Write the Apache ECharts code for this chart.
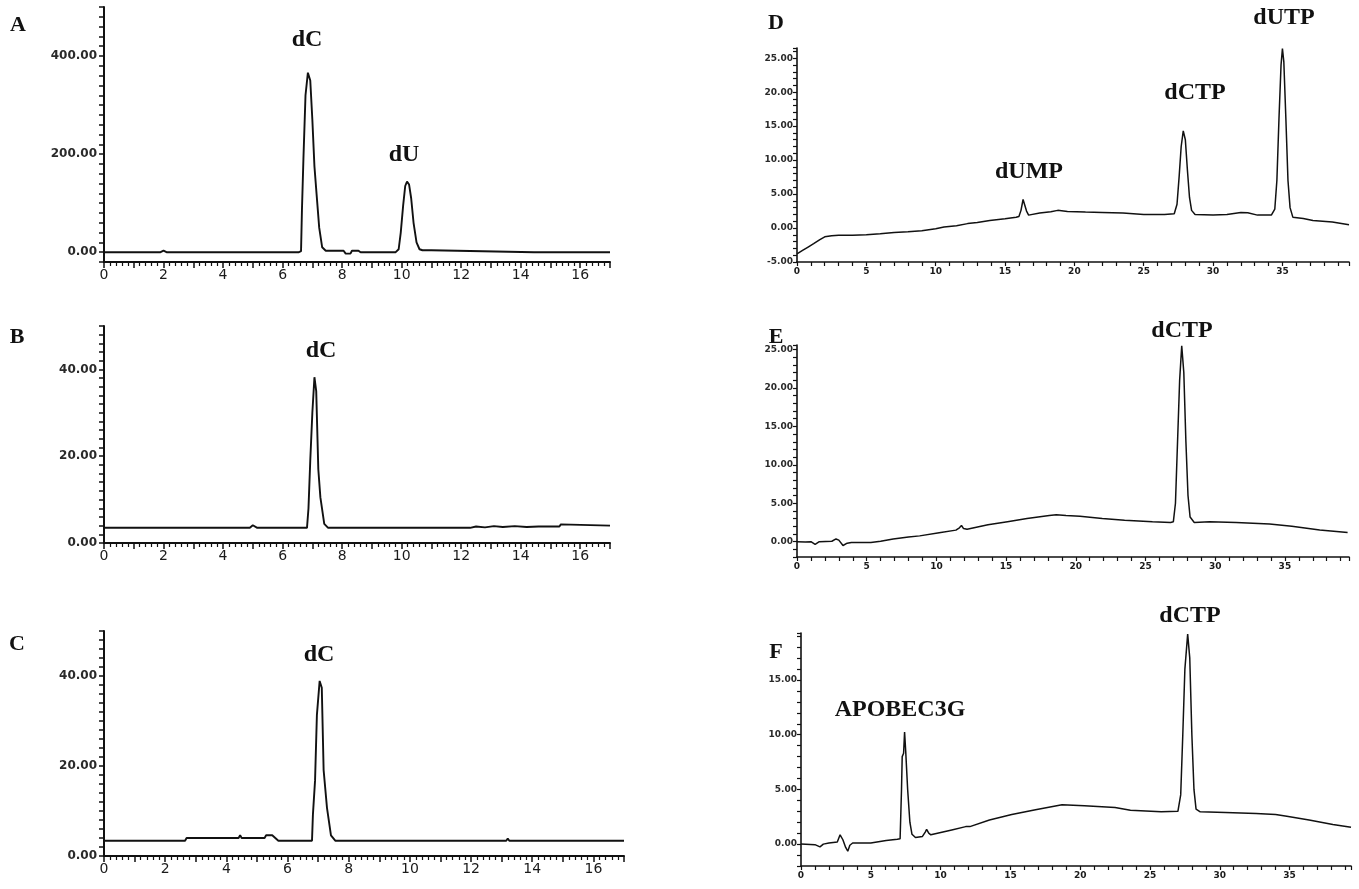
<!DOCTYPE html>
<html>
<head>
<meta charset="utf-8">
<script src="https://cdn.jsdelivr.net/npm/echarts@6/dist/echarts.min.js"></script>
<style>html,body{margin:0;padding:0;background:#fff}#c{width:1359px;height:889px}</style>
</head>
<body>
<div id="c"></div>
<script>
// ---- data (time in min, absorbance) ----
const traceA = [[0,0],[1.9,0],[2.0,3],[2.1,0],[6.55,0],[6.62,2],[6.65,85],[6.7,190],[6.77,320],[6.85,366],[6.93,350],[7.0,270],[7.07,175],[7.14,120],[7.23,50],[7.33,10],[7.45,3],[8.05,3],[8.12,-3],[8.28,-3],[8.33,3],[8.55,3],[8.62,0],[9.8,0],[9.9,6],[9.97,40],[10.05,95],[10.12,135],[10.18,144],[10.25,138],[10.32,110],[10.4,60],[10.5,20],[10.6,6],[10.7,4],[11.0,4],[11.05,0],[14.45,0],[14.5,4],[14.56,0],[17,0]];
const traceB = [[0,3.5],[4.9,3.5],[5.0,4.1],[5.15,3.5],[6.82,3.5],[6.87,8],[6.93,19],[7.0,30],[7.07,38.2],[7.13,35],[7.2,17],[7.27,10.5],[7.4,4.4],[7.53,3.5],[12.3,3.5],[12.5,3.8],[12.8,3.6],[13.1,3.9],[13.4,3.7],[13.8,3.9],[14.2,3.7],[14.6,3.8],[15.3,3.8],[15.35,4.3],[15.4,3.9],[17,4.0]];
const traceC = [[0,3.4],[1.45,3.4],[1.5,3.8],[1.55,3.4],[2.65,3.4],[2.7,4.0],[4.4,4.0],[4.45,4.6],[4.5,4.0],[5.25,4.0],[5.3,4.6],[5.5,4.6],[5.7,3.4],[6.8,3.4],[6.83,9.2],[6.9,16.8],[6.96,31.3],[7.05,38.9],[7.12,37.4],[7.18,19.1],[7.29,10.7],[7.42,4.6],[7.56,3.4],[13.15,3.4],[13.2,3.9],[13.25,3.4],[13.95,3.4],[14.0,3.8],[14.05,3.4],[14.65,3.4],[14.7,3.8],[14.75,3.4],[17,3.4]];
const traceD = [[0,-3.8],[0.4,-3.3],[0.8,-2.8],[1.2,-2.3],[1.65,-1.7],[2.0,-1.3],[2.5,-1.15],[3.0,-1.05],[4.0,-1.05],[5.0,-1.0],[6.0,-0.85],[7.0,-0.65],[8.0,-0.55],[9.0,-0.4],[10.0,-0.1],[10.6,0.15],[11.5,0.35],[12.3,0.65],[13.0,0.8],[13.9,1.1],[15.0,1.35],[15.8,1.6],[16.0,1.7],[16.15,2.6],[16.3,4.2],[16.4,4.1],[16.55,2.5],[16.7,1.9],[17.5,2.2],[18.3,2.4],[18.8,2.6],[19.5,2.45],[20.8,2.35],[22.0,2.3],[23.5,2.2],[25.0,2.0],[26.5,2.0],[27.2,2.1],[27.4,3.5],[27.55,7.5],[27.7,12.0],[27.85,14.3],[28.0,13.0],[28.15,8.5],[28.3,4.5],[28.45,2.6],[28.7,2.0],[30.0,1.9],[31.0,2.0],[32.0,2.3],[32.5,2.25],[33.2,1.9],[34.2,1.9],[34.45,2.8],[34.6,7],[34.75,16],[34.9,24],[35.0,26.4],[35.1,24.5],[35.25,16],[35.4,7],[35.55,3],[35.75,1.6],[36.5,1.4],[37.2,1.1],[38.6,0.9],[39.8,0.5]];
const traceE = [[0,0],[0.6,-0.05],[1.0,0],[1.3,-0.35],[1.6,0],[2.5,0.05],[2.8,0.35],[3.0,0.2],[3.3,-0.5],[3.6,-0.2],[3.9,-0.1],[5.3,-0.1],[6.0,0.05],[6.9,0.35],[8.0,0.6],[8.8,0.75],[10.2,1.15],[11.4,1.5],[11.65,1.8],[11.8,2.1],[11.95,1.7],[12.2,1.6],[13.7,2.2],[15.1,2.6],[16.5,3.0],[18.1,3.4],[18.6,3.5],[19.3,3.4],[20.3,3.3],[21.9,3.0],[23.5,2.8],[25.5,2.6],[26.8,2.5],[27.0,2.6],[27.15,5],[27.3,13],[27.45,21],[27.6,25.5],[27.75,22],[27.9,13],[28.05,6],[28.2,3.2],[28.5,2.5],[29.6,2.6],[31.5,2.5],[33.9,2.3],[35.5,2.0],[37.5,1.5],[39.5,1.2]];
const traceF = [[0,0],[1.0,-0.05],[1.36,-0.25],[1.6,0],[2.0,0.1],[2.6,0.2],[2.8,0.85],[3.0,0.4],[3.2,-0.3],[3.35,-0.65],[3.5,-0.1],[3.7,0.1],[5.0,0.1],[6.1,0.33],[6.9,0.45],[7.1,0.5],[7.2,5],[7.25,8.0],[7.35,8.3],[7.42,10.25],[7.5,8.5],[7.64,5.0],[7.8,2.0],[7.95,0.9],[8.2,0.6],[8.7,0.7],[8.9,1.1],[9.0,1.35],[9.15,1.0],[9.3,0.85],[10.8,1.3],[11.8,1.6],[11.9,1.75],[12.1,1.6],[13.5,2.2],[15.1,2.7],[16.8,3.15],[18.7,3.6],[20.3,3.5],[22.5,3.35],[23.6,3.1],[25.8,2.95],[27.0,3.0],[27.2,4.5],[27.35,10],[27.5,16],[27.7,19.2],[27.85,17],[28.0,10],[28.15,5],[28.3,3.2],[28.6,2.95],[30.4,2.9],[32.6,2.8],[34.0,2.7],[34.8,2.55],[36.4,2.2],[38.1,1.8],[39.4,1.55]];

const panelLetters = ['A','B','C','D','E','F'];
const peakNames = ['dC','dU','dC','dC','dUMP','dCTP','dUTP','dCTP','APOBEC3G','dCTP'];

// ---- layout ----
const grids = [
  {left:104, top:7,   width:506, height:255},
  {left:104, top:326, width:506, height:217},
  {left:104, top:631, width:520, height:225},
  {left:797, top:48,  width:552, height:214},
  {left:797, top:345, width:552, height:212},
  {left:801, top:633, width:550, height:233}
];
const xCfg = [
  {min:0,max:17,step:1,lab:2},{min:0,max:17,step:1,lab:2},{min:0,max:17,step:1,lab:2},
  {min:0,max:39.8,step:1,lab:5},{min:0,max:39.6,step:1,lab:5},{min:0,max:39.4,step:1,lab:5}
];
const yCfg = [
  {min:-20,max:500,step:20,lab:200},{min:0,max:50,step:2,lab:20},{min:0,max:50,step:2,lab:20},
  {min:-5,max:26.5,step:1,lab:5},{min:-2,max:25.6,step:1,lab:5},{min:-2,max:19.3,step:1,lab:5}
];
const traces = [traceA,traceB,traceC,traceD,traceE,traceF];

function isMult(v, m){ const r = v/m; return Math.abs(r-Math.round(r))<1e-6; }

const xAxes = xCfg.map((c,i)=>{
  const left = i<3;
  return {
    type:'value', gridIndex:i, min:c.min, max:c.max, interval:c.step,
    axisLine:{show:true, onZero:false, lineStyle:{color:'#111', width:left?2:1.6}},
    axisTick:{show:true, length:left?6:4, lineStyle:{color:'#111', width:left?1.5:1.2}},
    minorTick: left ? {show:true, splitNumber:5, length:4, lineStyle:{color:'#111', width:1.2}} : {show:false},
    splitLine:{show:false},
    axisLabel:{
      margin:left?6:5, color:'#1a1a1a', fontFamily:'DejaVu Sans', fontSize:left?14:9, fontWeight:left?'normal':'bold',
      formatter:v=> isMult(v,c.lab) ? String(Math.round(v)) : ''
    }
  };
});
const yAxes = yCfg.map((c,i)=>{
  const left = i<3;
  return {
    type:'value', gridIndex:i, min:c.min, max:c.max, interval:c.step,
    axisLine:{show:true, onZero:false, lineStyle:{color:'#111', width:left?2:1.6}},
    axisTick:{show:true, length:left?5:4, lineStyle:{color:'#111', width:left?1.5:1.2}},
    splitLine:{show:false},
    axisLabel:{
      margin:left?7:4, color:'#2a2a2a', fontFamily:'DejaVu Sans', fontSize:left?12:9, fontWeight:'bold',
      formatter:v=> isMult(v,c.lab) ? v.toFixed(2) : ''
    }
  };
});
const series = traces.map((t,i)=>({
  type:'line', xAxisIndex:i, yAxisIndex:i, data:t, showSymbol:false, symbol:'none',
  lineStyle:{color:'#111', width:i<3?1.9:1.5}, animation:false
}));

// ---- text placement ----
const letterPos = [[18,25],[17,337],[17,644],[776,23],[776,337],[776,652]];
const peakPos = [[307,40],[404,155],[321,351],[319,655],[1029,172],[1195,93],[1284,18],[1182,331],[900,710],[1190,616]];
const graphic = [];
panelLetters.forEach((L,i)=>{
  graphic.push({type:'text', x:letterPos[i][0], y:letterPos[i][1], style:{
    text:L, font:'bold 22px "Liberation Serif"', fill:'#111',
    align:'center', verticalAlign:'middle', textAlign:'center', textVerticalAlign:'middle'}});
});
peakNames.forEach((p,i)=>{
  graphic.push({type:'text', x:peakPos[i][0], y:peakPos[i][1], style:{
    text:p, font:'bold 24px "Liberation Serif"', fill:'#111',
    align:'center', verticalAlign:'middle', textAlign:'center', textVerticalAlign:'middle'}});
});

const chart = echarts.init(document.getElementById('c'), null, {renderer:'canvas'});
chart.setOption({
  animation:false, backgroundColor:'#fff',
  grid:grids, xAxis:xAxes, yAxis:yAxes, series:series, graphic:graphic
});
</script>
</body>
</html>
